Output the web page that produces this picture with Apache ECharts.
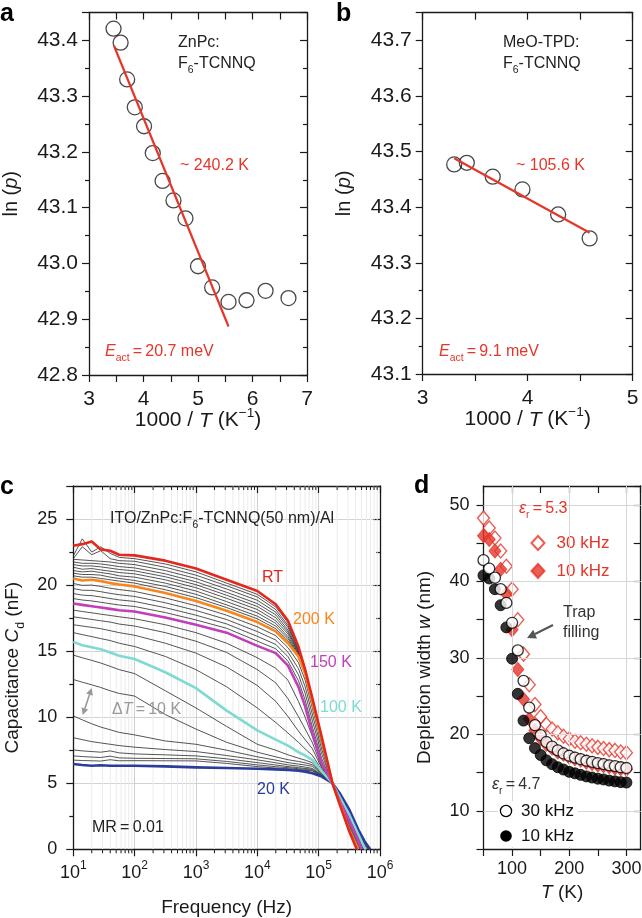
<!DOCTYPE html>
<html><head><meta charset="utf-8">
<script src="https://cdn.jsdelivr.net/npm/echarts@6/dist/echarts.min.js"></script>
<style>html,body{margin:0;padding:0;background:#fff}#c{width:642px;height:918px}</style>
</head><body><div id="c"></div>
<script>
// ---------------- Panel a data ----------------
const aX = [3.45, 3.58, 3.70, 3.84, 4.01, 4.17, 4.35, 4.55, 4.77, 5.00, 5.26, 5.56, 5.89, 6.24, 6.66];
const aY = [43.421, 43.396, 43.330, 43.280, 43.246, 43.198, 43.148, 43.113, 43.081, 42.995, 42.957, 42.931, 42.934, 42.951, 42.938];
const aFitX = [3.46, 5.56];
const aFitY = [43.390, 42.887];
// ---------------- Panel b data ----------------
const bX = [3.30, 3.42, 3.667, 3.95, 4.29, 4.59];
const bY = [43.477, 43.480, 43.455, 43.432, 43.387, 43.344];
const bFitX = [3.30, 4.59];
const bFitY = [43.488, 43.354];
// ---------------- Panel c data ----------------
const cFreq = [10, 14, 20, 28, 40, 56, 100, 316, 1000, 3162, 10000, 19953, 31623, 46774, 60256, 79433, 112202, 167880, 223872, 316228, 446684, 562341];
const cTemps = ['20 K','30 K','40 K','50 K','60 K','70 K','80 K','90 K','100 K','110 K','120 K','130 K','140 K','150 K','160 K','170 K','180 K','190 K','200 K','210 K','220 K','230 K','240 K','250 K','260 K','270 K','280 K','290 K','RT'];
const cZero = [691831, 676083, 660693, 653131, 630957, 616595, 602560, 595662, 588844, 559800, 549541, 530884, 512861, 501187, 484172, 473151, 462381, 451856, 441570, 439000, 436500, 434000, 431000, 428500, 425500, 423000, 420500, 418000, 416869];
const cap20  = [6.46, 6.38, 6.32, 6.36, 6.33, 6.32, 6.33, 6.28, 6.2, 6.15, 6.1, 6.05, 6.0, 5.95, 5.88, 5.75, 5.5, 5.0, 4.2, 3.0, 1.45, 0.6];
const cap30  = [6.75, 6.72, 6.7, 6.68, 6.78, 6.7, 6.71, 6.7, 6.69, 6.5, 6.26, 6.15, 6.1, 6.03, 5.98, 5.93, 5.52, 5.0, 4.15, 2.95, 1.4, 0.5];
const cap40  = [7.07, 7.02, 6.98, 6.95, 7.05, 6.92, 6.89, 6.87, 6.85, 6.65, 6.39, 6.25, 6.18, 6.1, 6.05, 5.98, 5.54, 5.0, 4.12, 2.9, 1.35, 0.45];
const cap50  = [7.52, 7.45, 7.4, 7.35, 7.45, 7.3, 7.22, 7.15, 7.07, 6.85, 6.56, 6.38, 6.26, 6.18, 6.12, 6.05, 5.57, 5.0, 4.1, 2.85, 1.3, 0.4];
const cap60  = [8.45, 8.3, 8.15, 8.05, 7.95, 7.85, 7.73, 7.55, 7.4, 7.1, 6.77, 6.55, 6.39, 6.3, 6.22, 6.12, 5.6, 5.0, 4.05, 2.8, 1.25, 0.3];
const cap70  = [10.1, 9.8, 9.5, 9.25, 9.05, 8.85, 8.66, 8.2, 7.95, 7.5, 7.0, 6.75, 6.56, 6.45, 6.38, 6.28, 5.65, 5.0, 4.0, 2.75, 1.2, 0.2];
const cap80  = [12.85, 12.65, 12.45, 12.25, 12.0, 11.8, 11.6, 10.2, 9.1, 8.1, 7.35, 7.0, 6.78, 6.65, 6.55, 6.4, 5.7, 5.0, 3.97, 2.7, 1.15, 0.12];
const cap90  = [14.7, 14.5, 14.3, 14.1, 13.85, 13.6, 13.3, 12.0, 10.7, 9.3, 7.95, 7.5, 7.15, 6.9, 6.75, 6.55, 5.75, 5.0, 3.93, 2.65, 1.12, 0.05];
const cap100 = [15.7, 15.45, 15.3, 15.15, 14.9, 14.65, 14.4, 13.4, 12.2, 10.5, 9.0, 8.3, 7.85, 7.35, 7.1, 6.75, 5.9, 5.0, 3.9, 2.6, 1.1, 0.1];
const cap110 = [16.4, 16.25, 16.1, 15.95, 15.8, 15.6, 15.35, 14.6, 13.6, 12.3, 10.7, 9.6, 8.8, 8.1, 7.6, 7.1, 6.0, 5.0, 3.85, 2.5, 1.0, null];
const cap120 = [17.0, 16.9, 16.8, 16.7, 16.55, 16.4, 16.2, 15.6, 14.85, 13.8, 12.4, 11.2, 10.05, 8.95, 8.3, 7.6, 6.15, 5.0, 3.8, 2.45, 0.9, null];
const cap130 = [17.6, 17.5, 17.4, 17.3, 17.2, 17.05, 16.9, 16.4, 15.75, 14.9, 13.6, 12.6, 11.4, 10.05, 9.1, 8.05, 6.25, 5.0, 3.75, 2.35, 0.8, null];
const cap140 = [18.1, 18.0, 17.9, 17.8, 17.7, 17.6, 17.45, 17.0, 16.4, 15.6, 14.5, 13.7, 12.8, 11.2, 10.0, 8.5, 6.4, 5.0, 3.68, 2.28, 0.72, null];
const cap150 = [18.6, 18.5, 18.4, 18.3, 18.2, 18.1, 18.0, 17.55, 17.0, 16.4, 15.4, 14.85, 13.9, 12.3, 10.8, 8.75, 6.5, 5.0, 3.6, 2.2, 0.65, null];
const cap160 = [18.98, 18.87, 18.8, 18.7, 18.59, 18.49, 18.38, 17.92, 17.36, 16.73, 15.76, 15.18, 14.24, 12.76, 11.3, 9.22, 6.86, 5.0, 3.55, 2.0, 0.45, null];
const cap170 = [19.36, 19.24, 19.2, 19.1, 18.98, 18.88, 18.76, 18.29, 17.72, 17.06, 16.12, 15.51, 14.58, 13.22, 11.8, 9.69, 7.22, 5.0, 3.5, 1.85, 0.3, null];
const cap180 = [19.74, 19.61, 19.6, 19.5, 19.37, 19.27, 19.14, 18.66, 18.08, 17.39, 16.48, 15.84, 14.92, 13.68, 12.3, 10.16, 7.58, 5.0, 3.47, 1.7, 0.15, null];
const cap190 = [20.12, 19.98, 20.0, 19.9, 19.76, 19.66, 19.52, 19.03, 18.44, 17.72, 16.84, 16.17, 15.26, 14.14, 12.8, 10.63, 7.94, 5.0, 3.43, 1.58, 0.05, null];
const cap200 = [20.5, 20.35, 20.4, 20.3, 20.15, 20.05, 19.9, 19.4, 18.8, 18.05, 17.2, 16.5, 15.6, 14.6, 13.3, 11.1, 8.3, 5.0, 3.4, 1.45, null, null];
const cap210 = [20.7, 20.6, 20.6, 20.5, 20.4, 20.3, 20.15, 19.65, 19.05, 18.3, 17.45, 16.7, 15.8, 14.7, 13.35, 11.15, 8.32, 5.0, 3.39, 1.44, null, null];
const cap220 = [20.9, 20.8, 20.8, 20.75, 20.6, 20.5, 20.35, 19.9, 19.3, 18.5, 17.65, 16.9, 15.95, 14.75, 13.38, 11.17, 8.34, 5.0, 3.38, 1.43, null, null];
const cap230 = [21.1, 21.0, 21.05, 20.95, 20.85, 20.7, 20.6, 20.15, 19.55, 18.75, 17.9, 17.1, 16.1, 14.85, 13.4, 11.2, 8.36, 5.0, 3.37, 1.42, null, null];
const cap240 = [21.35, 21.2, 21.25, 21.15, 21.05, 20.95, 20.85, 20.4, 19.8, 19.0, 18.15, 17.3, 16.3, 14.9, 13.43, 11.22, 8.38, 5.0, 3.36, 1.41, null, null];
const cap250 = [21.55, 21.45, 21.45, 21.38, 21.28, 21.18, 21.08, 20.63, 20.03, 19.23, 18.38, 17.53, 16.45, 14.98, 13.46, 11.25, 8.4, 5.0, 3.35, 1.4, null, null];
const cap260 = [21.75, 21.65, 21.65, 21.6, 21.5, 21.4, 21.3, 20.85, 20.25, 19.45, 18.6, 17.75, 16.6, 15.05, 13.49, 11.28, 8.42, 5.0, 3.34, 1.39, null, null];
const cap270 = [21.95, 21.9, 21.85, 21.8, 21.75, 21.65, 21.55, 21.1, 20.5, 19.7, 18.85, 17.95, 16.8, 15.15, 13.52, 11.31, 8.44, 5.0, 3.33, 1.38, null, null];
const cap280 = [22.0, 22.9, 22.3, 22.6, 22.0, 21.85, 21.8, 21.35, 20.75, 19.95, 19.1, 18.15, 16.95, 15.2, 13.55, 11.34, 8.46, 5.0, 3.32, 1.37, null, null];
const cap290 = [22.2, 23.5, 22.5, 22.9, 22.4, 22.1, 22.0, 21.6, 21.0, 20.15, 19.3, 18.35, 17.15, 15.3, 13.57, 11.37, 8.48, 5.0, 3.31, 1.36, null, null];
const capRT  = [22.98, 23.1, 23.3, 22.7, 22.6, 22.3, 22.25, 21.85, 21.25, 20.4, 19.55, 18.55, 17.3, 15.35, 13.6, 11.4, 8.5, 5.0, 3.3, 1.35, null, null];
const cCurves = [cap20, cap30, cap40, cap50, cap60, cap70, cap80, cap90, cap100, cap110, cap120, cap130, cap140, cap150, cap160, cap170, cap180, cap190, cap200, cap210, cap220, cap230, cap240, cap250, cap260, cap270, cap280, cap290, capRT];
// ---------------- Panel d data ----------------
const dT = [50, 60, 70, 80, 90, 100, 110, 120, 130, 140, 150, 160, 170, 180, 190, 200, 210, 220, 230, 240, 250, 260, 270, 280, 290, 300];
const wOpen53 = [48.3, 47.0, 45.7, 44.0, 42.0, 39.0, 35.0, 30.5, 26.5, 23.9, 22.3, 21.3, 20.7, 20.2, 19.75, 19.4, 19.1, 18.9, 18.7, 18.5, 18.3, 18.15, 18.0, 17.9, 17.7, 17.6];
const wFill53 = [46.0, 45.5, 44.0, 41.6, 38.4, 33.7, 28.5, 24.6, 22.0, 20.5, 19.5, 18.7, 18.2, 17.7, 17.4, 17.0, 16.8, 16.6, 16.35, 16.2, 16.0, 15.9, 15.75, 15.6, 15.5, 15.45];
const wOpen47 = [42.8, 41.7, 40.5, 39.0, 37.2, 34.6, 31.0, 27.0, 23.5, 21.2, 19.9, 19.0, 18.4, 17.9, 17.5, 17.2, 16.95, 16.75, 16.55, 16.4, 16.25, 16.1, 15.95, 15.85, 15.7, 15.6];
const wFill47 = [40.8, 40.4, 39.0, 36.9, 34.0, 29.9, 25.3, 21.8, 19.5, 18.2, 17.3, 16.6, 16.1, 15.7, 15.4, 15.1, 14.9, 14.7, 14.5, 14.35, 14.2, 14.1, 13.95, 13.85, 13.75, 13.7];
const dGridY = [10, 20, 30, 40, 50];
const dGridX = [100, 200, 300];

// ---------------- styling ----------------
const FONT = '"Liberation Sans", Arial, Helvetica, sans-serif';
const RED = '#e5362a';
const INK = '#1a1a1a';
const COLORS = {'20 K':'#2b3c9c', '100 K':'#7fdad2', '150 K':'#c03fba', '200 K':'#f7861f', 'RT':'#e3281e'};

function rich(fs, color) {
  return {
    i:   {fontStyle:'italic', fontSize:fs, fontFamily:FONT, color:color, lineHeight:fs*1.4},
    sup: {fontSize:fs*0.65, fontFamily:FONT, color:color, verticalAlign:'top', lineHeight:fs*0.8},
    sub: {fontSize:fs*0.65, fontFamily:FONT, color:color, verticalAlign:'bottom', lineHeight:fs*0.95},
    isub:{fontSize:fs*0.65, fontStyle:'italic', fontFamily:FONT, color:color, verticalAlign:'bottom', lineHeight:fs*0.95}
  };
}
function zip(xs, ys) { return xs.map((x, i) => [x, ys[i]]); }

const lineSty = {color:INK, width:1.3};
function axis(grid, pos, base, opts) {
  const inside = (pos === 'top' || pos === 'right');
  const o = Object.assign({
    gridIndex: grid, position: pos,
    axisLine: {show:true, onZero:false, lineStyle:lineSty},
    axisTick: {show:true, inside:inside, length:7, lineStyle:{color:INK, width:1.2}},
    splitLine: {show:false},
    axisLabel: {show:false}
  }, base);
  if (!inside && opts) Object.assign(o, opts);
  return o;
}

// Panel a / b axes
const abLabel = {show:true, fontSize:21, color:INK, fontFamily:FONT, margin:11};
const mt = (len) => ({show:true, splitNumber:2, length:len, lineStyle:{color:INK, width:1.2}});
const aXBase = {type:'value', min:3, max:7, interval:1, minorTick:mt(7)};
const bXBase = {type:'value', min:3, max:5, interval:1, minorTick:mt(7)};
const aYBase = {type:'value', min:42.8, max:43.45, interval:0.1, minorTick:mt(4)};
const bYBase = {type:'value', min:43.1, max:43.75, interval:0.1, minorTick:mt(4)};
const xNameAB = {name:'1000 / {i|T} (K{sup|−1})', nameLocation:'middle', nameGap:31, nameMoveOverlap:false,
  nameTextStyle:{fontSize:21, color:INK, fontFamily:FONT, lineHeight:29, rich:rich(21, INK)},
  axisLabel:Object.assign({}, abLabel, {margin:14})};
const yNameAB = (gap) => ({name:'ln ({i|p})', nameLocation:'middle', nameGap:gap,
  nameTextStyle:{fontSize:20, color:INK, fontFamily:FONT, lineHeight:28, rich:rich(20, INK)},
  axisLabel:Object.assign({}, abLabel, {showMaxLabel:false, formatter:(v) => v.toFixed(1)})});

// Panel c / d axes
const cdLabel = {show:true, fontSize:18, color:INK, fontFamily:FONT};
const cXBase = {type:'log', logBase:10, min:10, max:1000000};
const cYBase = {type:'value', min:0, max:27.5, interval:5, minorTick:mt(4)};
const dXBase = {type:'value', min:50, max:325, interval:50};
const dYBase = {type:'value', min:5, max:52.5, interval:5};

const xAxes = [
  axis(0, 'bottom', aXBase, xNameAB), axis(0, 'top', aXBase),
  axis(1, 'bottom', bXBase, xNameAB), axis(1, 'top', bXBase),
  axis(2, 'bottom', cXBase, {name:'Frequency (Hz)', nameLocation:'middle', nameGap:49,
      nameTextStyle:{fontSize:19, color:INK, fontFamily:FONT},
      splitLine:{show:true, lineStyle:{color:'#cfcfcf', width:1}},
      axisLabel:Object.assign({}, cdLabel, {margin:10, lineHeight:27, formatter:(v) => '10{s|' + Math.round(Math.log10(v)) + '}',
        rich:{s:{fontSize:12, fontFamily:FONT, color:INK, verticalAlign:'top', lineHeight:14}}})}),
  axis(2, 'top', cXBase),
  axis(3, 'bottom', dXBase, {name:'{i|T} (K)', nameLocation:'middle', nameGap:29,
      nameTextStyle:{fontSize:19, color:INK, fontFamily:FONT, lineHeight:27, rich:rich(19, INK)},
      axisLabel:Object.assign({}, cdLabel, {margin:11, showMaxLabel:false, formatter:(v) => (v % 100 === 0 ? String(v) : '')})}),
  axis(3, 'top', dXBase)
];
const yAxes = [
  axis(0, 'left', aYBase, yNameAB(64)), axis(0, 'right', aYBase),
  axis(1, 'left', bYBase, yNameAB(64)), axis(1, 'right', bYBase),
  axis(2, 'left', cYBase, {name:'Capacitance {i|C}{sub|d} (nF)', nameLocation:'middle', nameGap:47,
      nameTextStyle:{fontSize:19, color:INK, fontFamily:FONT, lineHeight:27, rich:rich(19, INK)},
      splitLine:{show:true, lineStyle:{color:'#d2d2d2', width:1}},
      axisLabel:Object.assign({}, cdLabel, {margin:16, showMaxLabel:false})}),
  axis(2, 'right', cYBase),
  axis(3, 'left', dYBase, {name:'Depletion width {i|w} (nm)', nameLocation:'middle', nameGap:45,
      nameTextStyle:{fontSize:19, color:INK, fontFamily:FONT, lineHeight:27, rich:rich(19, INK)},
      axisLabel:Object.assign({}, cdLabel, {margin:14, showMaxLabel:false, formatter:(v) => (v % 10 === 0 ? String(v) : '')})}),
  axis(3, 'right', dYBase)
];

// ---------------- series ----------------
const series = [];
// panel a
series.push({type:'scatter', xAxisIndex:0, yAxisIndex:0, data:zip(aX, aY), symbol:'circle', symbolSize:15,
  itemStyle:{color:'rgba(255,255,255,0)', borderColor:INK, borderWidth:1.3}, z:3});
series.push({type:'line', xAxisIndex:0, yAxisIndex:0, data:zip(aFitX, aFitY), symbol:'none', lineStyle:{color:RED, width:2.2}, z:4});
// panel b
series.push({type:'scatter', xAxisIndex:2, yAxisIndex:2, data:zip(bX, bY), symbol:'circle', symbolSize:15,
  itemStyle:{color:'rgba(255,255,255,0)', borderColor:INK, borderWidth:1.3}, z:3});
series.push({type:'line', xAxisIndex:2, yAxisIndex:2, data:zip(bFitX, bFitY), symbol:'none', lineStyle:{color:RED, width:2.2}, z:4});

// panel c minor log grid + ticks (positions through the axis scale)
const cMinor = [];
for (let d = 1; d < 6; d++) for (let k = 2; k < 10; k++) cMinor.push([k * Math.pow(10, d)]);
series.push({type:'custom', xAxisIndex:4, yAxisIndex:4, data:cMinor, clip:false, silent:true, z:1,
  renderItem:(params, api) => {
    const f = api.value(0);
    const pb = api.coord([f, 0]);
    const pt = api.coord([f, 27.5]);
    return {type:'group', children:[
      {type:'line', shape:{x1:pb[0], y1:pb[1], x2:pt[0], y2:pt[1]}, style:{stroke:'#ebebeb', lineWidth:1}},
      {type:'line', shape:{x1:pb[0], y1:pb[1], x2:pb[0], y2:pb[1] + 4}, style:{stroke:INK, lineWidth:1}},
      {type:'line', shape:{x1:pt[0], y1:pt[1], x2:pt[0], y2:pt[1] + 4}, style:{stroke:INK, lineWidth:1}}
    ]};
  }});
function capData(vals, zero) {
  const out = [];
  cFreq.forEach((f, i) => { if (vals[i] != null) out.push([f, vals[i]]); });
  out.push([zero, 0]);
  return out;
}
const colored = [];
cTemps.forEach((t, i) => {
  const col = COLORS[t];
  const s = {type:'line', name:t, xAxisIndex:4, yAxisIndex:4, data:capData(cCurves[i], cZero[i]), symbol:'none',
    smooth:false, silent:true, lineStyle:{color:col || '#2a2a2a', width:col ? 2.6 : 0.8, join:'round'}, z:col ? 5 : 3};
  if (col) colored.push(s); else series.push(s);
});
['20 K', '100 K', '150 K', '200 K', 'RT'].forEach((t) => series.push(colored.find((s) => s.name === t)));

// panel d gridlines (through axis scale)
series.push({type:'line', xAxisIndex:6, yAxisIndex:6, data:[], silent:true, z:1,
  markLine:{silent:true, symbol:'none', label:{show:false}, animation:false,
    lineStyle:{color:'#d6d6d6', type:'solid', width:1},
    data:dGridY.map((v) => ({yAxis:v})).concat(dGridX.map((v) => ({xAxis:v})))}});
series.push({type:'scatter', name:'r30', xAxisIndex:6, yAxisIndex:6, data:zip(dT, wOpen53), symbol:'diamond', symbolSize:[12, 14], clip:true,
  itemStyle:{color:'#ffffff', borderColor:RED, borderWidth:1.4}, z:3});
series.push({type:'scatter', name:'r10', xAxisIndex:6, yAxisIndex:6, data:zip(dT, wFill53), symbol:'diamond', symbolSize:[12, 14], clip:true,
  itemStyle:{color:RED, borderColor:RED, borderWidth:1}, z:4});
series.push({type:'scatter', name:'k10', xAxisIndex:6, yAxisIndex:6, data:zip(dT, wFill47), symbol:'circle', symbolSize:11, clip:true,
  itemStyle:{color:'#000', borderColor:'#000', borderWidth:1}, z:5});
series.push({type:'scatter', name:'k30', xAxisIndex:6, yAxisIndex:6, data:zip(dT, wOpen47), symbol:'circle', symbolSize:11, clip:true,
  itemStyle:{color:'#fff', borderColor:'#000', borderWidth:1.3}, z:6});

const LEG = {r30:'30 kHz', r10:'10 kHz'};

// ---------------- annotations ----------------
function txt(x, y, text, fs, color, extra) {
  return {type:'text', x:x, y:y, silent:true, z:100,
    style:Object.assign({text:text, fill:color, fontSize:fs, fontFamily:FONT, align:'left', verticalAlign:'middle',
      lineHeight:fs*1.4, rich:rich(fs, color)}, extra || {})};
}
const graphic = [
  txt(0, 14, 'a', 25, '#000', {fontWeight:'bold'}),
  txt(336, 14, 'b', 25, '#000', {fontWeight:'bold'}),
  txt(0, 487, 'c', 25, '#000', {fontWeight:'bold'}),
  txt(414, 486, 'd', 25, '#000', {fontWeight:'bold'}),
  txt(178, 43, 'ZnPc:', 16, '#222'),
  txt(178, 64, 'F{sub|6}-TCNNQ', 16, '#222'),
  txt(180, 166, '~ 240.2 K', 16, RED),
  txt(105, 352, '{i|E}{sub|act}\u2009=\u200920.7 meV', 16, RED),
  txt(503, 43, 'MeO-TPD:', 16, '#222'),
  txt(503, 64, 'F{sub|6}-TCNNQ', 16, '#222'),
  txt(516, 166, '~ 105.6 K', 16, RED),
  txt(439, 352, '{i|E}{sub|act}\u2009=\u20099.1 meV', 16, RED),
  txt(110, 519, 'ITO/ZnPc:F{sub|6}-TCNNQ(50 nm)/Al', 16, '#222'),
  txt(262, 578, 'RT', 16, COLORS['RT']),
  txt(293, 620, '200 K', 16, COLORS['200 K']),
  txt(310, 663, '150 K', 16, COLORS['150 K']),
  txt(320, 708, '100 K', 16, '#7fdad2'),
  txt(257, 790, '20 K', 16, COLORS['20 K']),
  txt(112, 710, 'Δ{i|T}\u2009=\u200910 K', 16, '#9a9a9a'),
  txt(92, 828, 'MR\u2009=\u20090.01', 16, '#222'),
  txt(519, 509, '{i|ε}{sub|r}\u2009=\u20095.3', 16, RED),
  txt(492, 785, '{i|ε}{sub|r}\u2009=\u20094.7', 16, '#333'),
  txt(563, 613, 'Trap', 16, '#333'),
  txt(563, 633, 'filling', 16, '#333'),
  // black legend (εr = 4.7)
  {type:'rect', silent:true, z:90, shape:{x:498, y:801, width:80, height:46}, style:{fill:'#ffffff'}},
  {type:'circle', silent:true, z:100, shape:{cx:506, cy:811, r:5.6}, style:{fill:'#fff', stroke:'#000', lineWidth:1.3}},
  {type:'circle', silent:true, z:100, shape:{cx:506, cy:836, r:5.8}, style:{fill:'#000'}},
  txt(521, 811, '30 kHz', 17, '#111'),
  txt(521, 836, '10 kHz', 17, '#111'),
  // Trap-filling arrow
  {type:'line', silent:true, z:100, shape:{x1:553, y1:625, x2:535, y2:634}, style:{stroke:'#555', lineWidth:2}},
  {type:'polygon', silent:true, z:100, shape:{points:[[527, 638], [537, 638.4], [533.2, 629.8]]}, style:{fill:'#555'}},
  // delta-T double arrow
  {type:'line', silent:true, z:100, shape:{x1:89.5, y1:694.6, x2:84.9, y2:708.4}, style:{stroke:'#999', lineWidth:1.6}},
  {type:'polygon', silent:true, z:100, shape:{points:[[82.7, 715], [88.2, 709.5], [81.6, 707.3]]}, style:{fill:'#999'}},
  {type:'polygon', silent:true, z:100, shape:{points:[[91.7, 688], [92.8, 695.7], [86.2, 693.5]]}, style:{fill:'#999'}}
];

const option = {
  animation:false,
  textStyle:{fontFamily:FONT},
  grid:[
    {left:89, top:12.5, width:218, height:362.5, outerBoundsMode:'none', containLabel:false},
    {left:422.7, top:12.7, width:210, height:361.3, outerBoundsMode:'none', containLabel:false},
    {left:73.3, top:486, width:306.7, height:363.3, outerBoundsMode:'none', containLabel:false},
    {left:483.5, top:486, width:157.2, height:363, outerBoundsMode:'none', containLabel:false}
  ],
  xAxis:xAxes, yAxis:yAxes, series:series, graphic:graphic,
  legend:[
    {data:['r30', 'r10'], left:530.5, top:534.5, orient:'vertical', padding:0, itemWidth:13, itemHeight:14, itemGap:11,
      selectedMode:false, formatter:(n) => LEG[n], textStyle:{color:RED, fontSize:17, fontFamily:FONT, lineHeight:14, padding:[0, 0, 0, 7]}}
  ]
};
const chart = echarts.init(document.getElementById('c'), null, {renderer:'canvas', width:642, height:918});
chart.setOption(option);
</script></body></html>
